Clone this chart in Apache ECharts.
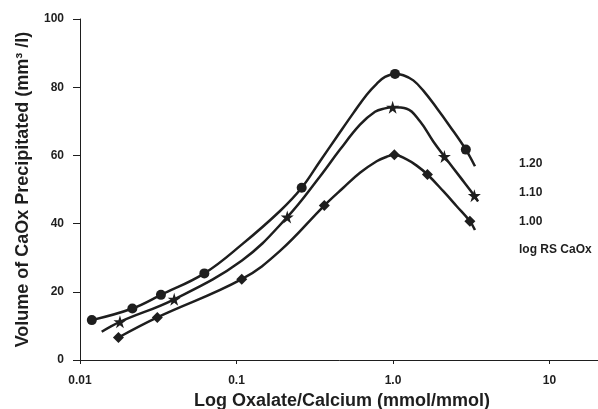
<!DOCTYPE html>
<html>
<head>
<meta charset="utf-8">
<script src="https://cdn.jsdelivr.net/npm/echarts@6/dist/echarts.min.js"></script>
<style>
  html, body { margin: 0; padding: 0; background: #fff; }
  #chart { width: 598px; height: 409px; }
</style>
</head>
<body>
<div id="chart"></div>
<script>
// values
var xTickLabels = ['0.01', '0.1', '1.0', '10']
var yTicks = [0, 20, 40, 60, 80, 100]

// measured points, log RS CaOx = 1.20 (circles)
var circleX = [0.0119, 0.0216, 0.0329, 0.0623, 0.261, 1.03, 2.92]
var circleY = [11.7, 15.1, 19.1, 25.4, 50.5, 83.9, 61.7]
// log RS CaOx = 1.10 (stars)
var starX = [0.018, 0.040, 0.211, 0.995, 2.13, 3.31]
var starY = [11.2, 17.8, 41.9, 74.1, 59.7, 48.2]
// log RS CaOx = 1.00 (diamonds)
var diamondX = [0.0176, 0.0312, 0.108, 0.364, 1.02, 1.66, 3.10]
var diamondY = [6.6, 12.5, 23.7, 45.3, 60.2, 54.4, 40.7]

// fitted curves
var circleCurveX = [0.0119, 0.0216, 0.0329, 0.0623, 0.1084, 0.1897, 0.261, 0.3416, 0.4368, 0.5576, 0.6792, 0.7866, 0.889, 1.03, 1.164, 1.348, 1.562, 1.902, 2.313, 2.92, 3.34]
var circleCurveY = [11.7, 15.1, 19.1, 25.4, 33.9, 43.7, 50.5, 58.3, 65.4, 72.4, 77.8, 81.0, 83.0, 83.9, 83.5, 82.0, 79.0, 73.9, 68.5, 61.7, 56.8]
var starCurveX = [0.01376, 0.018, 0.040, 0.1084, 0.211, 0.3416, 0.4585, 0.6153, 0.7674, 0.889, 0.995, 1.223, 1.487, 1.809, 2.13, 2.68, 3.31, 3.493]
var starCurveY = [8.3, 11.2, 17.8, 29.2, 41.9, 53.8, 61.7, 69.0, 72.8, 73.8, 74.1, 73.7, 70.0, 64.1, 59.7, 53.7, 48.2, 46.5]
var diamondCurveX = [0.0176, 0.0312, 0.108, 0.1897, 0.364, 0.4813, 0.6153, 0.7866, 0.9116, 1.02, 1.223, 1.417, 1.66, 2.096, 2.553, 3.10, 3.34]
var diamondCurveY = [6.6, 12.5, 23.7, 32.0, 45.3, 50.5, 54.9, 58.3, 59.6, 60.2, 58.8, 57.0, 54.4, 49.5, 45.1, 40.7, 38.1]

var sideLabels = ['1.20', '1.10', '1.00', 'log RS CaOx']

var ink = '#1e1e1e'
var font = '"Liberation Sans", Arial, sans-serif'
var starPath = 'path://M50,0 L61,36 L98,36 L68,58 L79,94 L50,72 L21,94 L32,58 L2,36 L39,36 Z'

function pairs(xs, ys) {
  var out = []
  for (var i = 0; i < xs.length; i++) out.push([xs[i], ys[i]])
  return out
}

function lineSeries(data) {
  return {
    type: 'line',
    data: data,
    smooth: 0.4,
    showSymbol: false,
    silent: true,
    lineStyle: { color: ink, width: 2.5 },
    z: 2
  }
}

function markSeries(data, symbol, size) {
  return {
    type: 'scatter',
    data: data,
    symbol: symbol,
    symbolSize: size,
    itemStyle: { color: ink, opacity: 1 },
    z: 3
  }
}

var graphics = []
for (var i = 0; i < sideLabels.length; i++) {
  graphics.push({
    type: 'text',
    left: 519,
    top: 158 + i * 28.7,
    style: { text: sideLabels[i], fill: ink, font: 'bold 12px ' + font }
  })
}

var chart = echarts.init(document.getElementById('chart'))
chart.setOption({
  backgroundColor: '#ffffff',
  animation: false,
  grid: { left: 80, width: 626, top: 19, bottom: 49, outerBoundsMode: 'none' },
  xAxis: {
    type: 'log',
    logBase: 10,
    min: 0.01,
    max: 100,
    name: 'Log Oxalate/Calcium (mmol/mmol)',
    nameLocation: 'middle',
    nameGap: 28,
    nameTextStyle: { color: ink, fontFamily: font, fontWeight: 'bold', fontSize: 18, padding: [0, 102, 0, 0] },
    axisLine: { lineStyle: { color: ink, width: 1 } },
    axisTick: { length: 4, lineStyle: { color: ink } },
    minorTick: { show: false },
    splitLine: { show: false },
    axisLabel: {
      color: ink, fontFamily: font, fontWeight: 'bold', fontSize: 12, margin: 15,
      formatter: function (v) {
        var k = Math.round(Math.log10(v)) + 2
        return xTickLabels[k] || ''
      }
    }
  },
  yAxis: {
    type: 'value',
    min: yTicks[0],
    max: yTicks[yTicks.length - 1],
    interval: 20,
    name: 'Volume of CaOx Precipitated (mm³ /l)',
    nameLocation: 'middle',
    nameGap: 48,
    nameTextStyle: { color: ink, fontFamily: font, fontWeight: 'bold', fontSize: 18 },
    axisLine: { show: true, lineStyle: { color: ink, width: 1 } },
    axisTick: { show: true, length: 7, lineStyle: { color: ink } },
    splitLine: { show: false },
    axisLabel: { color: ink, fontFamily: font, fontWeight: 'bold', fontSize: 12, margin: 16 }
  },
  graphic: graphics,
  series: [
    lineSeries(pairs(circleCurveX, circleCurveY)),
    lineSeries(pairs(starCurveX, starCurveY)),
    lineSeries(pairs(diamondCurveX, diamondCurveY)),
    markSeries(pairs(circleX, circleY), 'circle', 10),
    markSeries(pairs(starX, starY), starPath, 13),
    markSeries(pairs(diamondX, diamondY), 'diamond', 11)
  ]
})
</script>
</body>
</html>
